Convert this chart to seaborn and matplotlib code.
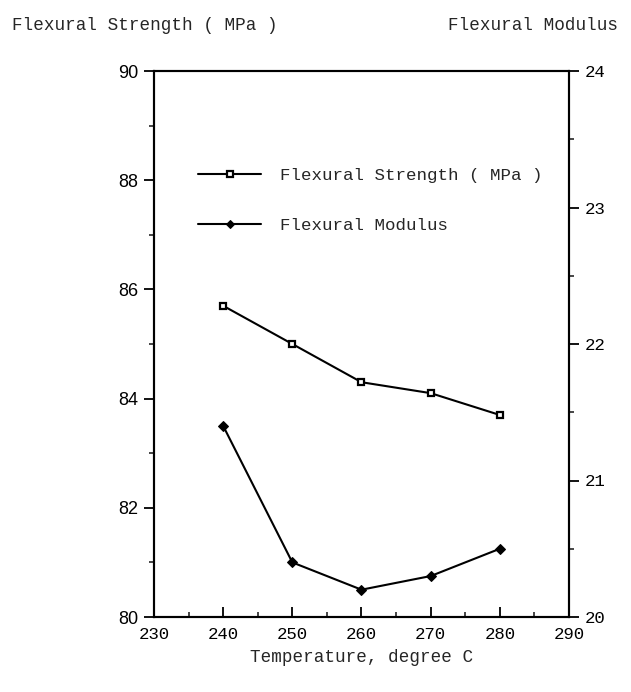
import matplotlib
matplotlib.use("Agg")
import matplotlib.pyplot as plt
import seaborn as sns
import pandas as pd
from matplotlib.ticker import MultipleLocator

temperature = [240, 250, 260, 270, 280]
flexural_strength = [85.7, 85.0, 84.3, 84.1, 83.7]
flexural_modulus = [21.4, 20.4, 20.2, 20.3, 20.5]

sns.set_style("ticks")
plt.rcParams['font.family'] = ['Liberation Mono', 'DejaVu Sans']

df = pd.DataFrame({"Temperature": temperature,
                   "Strength": flexural_strength,
                   "Modulus": flexural_modulus})

fig = plt.figure(figsize=(6.31, 6.92), dpi=100)
ax = fig.add_axes([154/631, 1-617/692, (569-154)/631, (617-71)/692])
ax2 = ax.twinx()

sns.lineplot(data=df, x="Temperature", y="Strength", ax=ax, color="black",
             lw=1.5, marker="s", markersize=5, markerfacecolor="white",
             markeredgecolor="black", markeredgewidth=1.6,
             label="Flexural Strength ( MPa )", legend=False)
sns.lineplot(data=df, x="Temperature", y="Modulus", ax=ax2, color="black",
             lw=1.5, marker="D", markersize=5, markerfacecolor="black",
             markeredgecolor="black",
             label="Flexural Modulus", legend=False)

ax.set_xlim(230, 290)
ax.set_ylim(80, 90)
ax2.set_ylim(20, 24)

ax.xaxis.set_major_locator(MultipleLocator(10))
ax.xaxis.set_minor_locator(MultipleLocator(5))
ax.yaxis.set_major_locator(MultipleLocator(2))
ax.yaxis.set_minor_locator(MultipleLocator(1))
ax2.yaxis.set_major_locator(MultipleLocator(1))
ax2.yaxis.set_minor_locator(MultipleLocator(0.5))

for a in (ax, ax2):
    for sp in a.spines.values():
        sp.set_linewidth(1.5)
        sp.set_color("black")

ax.tick_params(axis="x", which="major", direction="in", length=7, width=1.3,
               labelsize=12.5, pad=7, colors="black")
ax.tick_params(axis="x", which="minor", direction="in", length=3.5, width=1.2)
ax.tick_params(axis="y", which="major", direction="out", length=7, width=1.3,
               labelsize=13, pad=4, colors="black")
ax.tick_params(axis="y", which="minor", direction="out", length=3.5, width=1.2)
ax2.tick_params(axis="y", which="major", direction="out", length=7, width=1.3,
                labelsize=12.5, pad=4, colors="black")
ax2.tick_params(axis="y", which="minor", direction="out", length=3.5, width=1.2)

for lab in ax.get_yticklabels():
    lab.set_fontfamily("Liberation Sans")

ax.set_xlabel("")
ax.set_ylabel("")
ax2.set_ylabel("")

fig.text(12/631, 1-25/692, "Flexural Strength ( MPa )", fontsize=12.7,
         ha="left", va="center")
fig.text(618/631, 1-25/692, "Flexural Modulus", fontsize=12.7,
         ha="right", va="center")
fig.text(362/631, 1-657/692, "Temperature, degree C", fontsize=12.7,
         ha="center", va="center")

h1, l1 = ax.get_legend_handles_labels()
h2, l2 = ax2.get_legend_handles_labels()
leg = ax.legend(h1 + h2, l1 + l2, loc="upper left",
                bbox_to_anchor=(198/631, 1-168/692), bbox_transform=fig.transFigure,
                frameon=False, fontsize=12.6, handlelength=3.6, handletextpad=1.1,
                labelspacing=2.0, borderpad=0, borderaxespad=0, markerscale=0.8)

fig.savefig("out.png", dpi=100)
